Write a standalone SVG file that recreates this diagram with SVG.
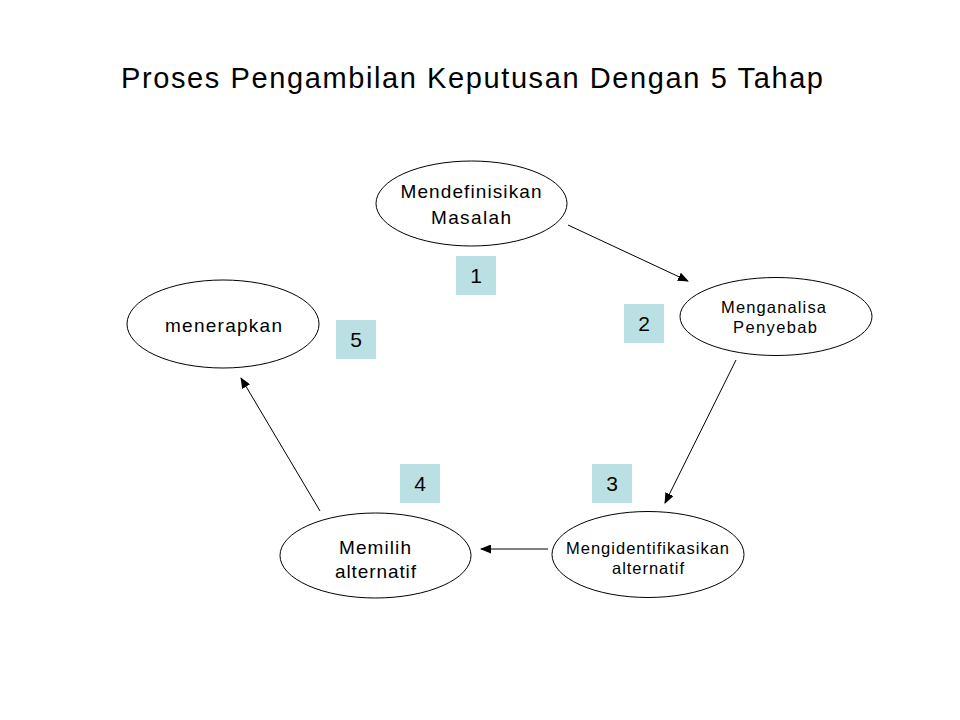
<svg xmlns="http://www.w3.org/2000/svg" width="960" height="720" viewBox="0 0 960 720">
<style>
.bg{fill:#ffffff}
.node ellipse{fill:#ffffff;stroke:#000000;stroke-width:1}
.t{font-family:"Liberation Sans",Arial,sans-serif;fill:#000000;text-anchor:middle}
.n18{font-size:19px}
.n16{font-size:16.5px}
.num{font-family:"Liberation Sans",Arial,sans-serif;font-size:21px;fill:#000000;text-anchor:middle}
.box{fill:#BBE0E3}
.conn line{stroke:#000000;stroke-width:1;marker-end:url(#ah)}
</style>
<defs>
<marker id="ah" markerWidth="11" markerHeight="9" refX="10" refY="4.5" orient="auto" markerUnits="userSpaceOnUse">
<path d="M0,0 L11,4.5 L0,9 Z" fill="#000000"/>
</marker>
</defs>
<rect class="bg" x="0" y="0" width="960" height="720"/>
<text class="t" x="472" y="88" font-size="29" textLength="702" lengthAdjust="spacing">Proses Pengambilan Keputusan Dengan 5 Tahap</text>

<g class="conn">
<line x1="568" y1="225" x2="688" y2="281"/>
<line x1="736" y1="360" x2="665" y2="503"/>
<line x1="548" y1="549" x2="481" y2="549"/>
<line x1="320" y1="511" x2="241" y2="378"/>
</g>

<g id="node1" class="node">
<ellipse cx="471.5" cy="203.5" rx="95.5" ry="42.5"/>
<text class="t n18" x="471" y="198" textLength="141" lengthAdjust="spacing">Mendefinisikan</text>
<text class="t n18" x="471" y="224" textLength="80" lengthAdjust="spacing">Masalah</text>
</g>
<g id="node2" class="node">
<ellipse cx="776" cy="316.5" rx="96" ry="39"/>
<text class="t n16" x="773.5" y="313" textLength="105" lengthAdjust="spacing">Menganalisa</text>
<text class="t n16" x="775" y="333" textLength="84" lengthAdjust="spacing">Penyebab</text>
</g>
<g id="node3" class="node">
<ellipse cx="648" cy="554.5" rx="96" ry="43"/>
<text class="t n16" x="647.5" y="554" textLength="163" lengthAdjust="spacing">Mengidentifikasikan</text>
<text class="t n16" x="648" y="574" textLength="72" lengthAdjust="spacing">alternatif</text>
</g>
<g id="node4" class="node">
<ellipse cx="375.5" cy="555.5" rx="95.5" ry="42.5"/>
<text class="t n18" x="375" y="554" textLength="72" lengthAdjust="spacing">Memilih</text>
<text class="t n18" x="375.5" y="578" textLength="81" lengthAdjust="spacing">alternatif</text>
</g>
<g id="node5" class="node">
<ellipse cx="223" cy="324" rx="96" ry="44"/>
<text class="t n18" x="223.5" y="332" textLength="117" lengthAdjust="spacing">menerapkan</text>
</g>

<g id="label1"><rect class="box" x="456" y="256" width="40" height="39"/><text class="num" x="476" y="283">1</text></g>
<g id="label2"><rect class="box" x="624" y="304" width="40" height="39"/><text class="num" x="644" y="331">2</text></g>
<g id="label3"><rect class="box" x="592" y="464" width="40" height="39"/><text class="num" x="612" y="491">3</text></g>
<g id="label4"><rect class="box" x="400" y="464" width="40" height="39"/><text class="num" x="420" y="491">4</text></g>
<g id="label5"><rect class="box" x="336" y="320" width="40" height="39"/><text class="num" x="356" y="347">5</text></g>
</svg>
